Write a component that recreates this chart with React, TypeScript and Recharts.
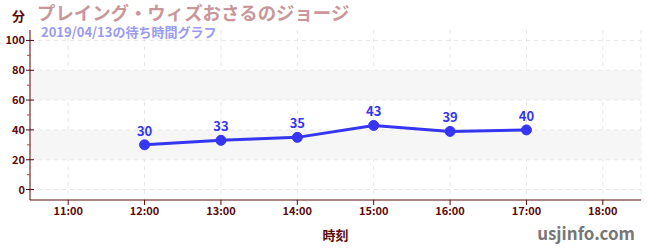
import React from "react";
import { LineChart, Line, XAxis, YAxis, CartesianGrid, ReferenceArea, ReferenceLine, LabelList } from "recharts";

const hours = [12, 13, 14, 15, 16, 17];
const waits = [30, 33, 35, 43, 39, 40];
const xTicks = [11, 12, 13, 14, 15, 16, 17, 18];
const yTicks = [0, 10, 20, 30, 40, 50, 60, 70, 80, 90, 100];
const majorY = [0, 20, 40, 60, 80, 100];
const bands = [[20, 40], [60, 80]];

const data = hours.map((h, i) => ({ h, wait: waits[i] }));

const FONT = "'Noto Sans CJK JP', 'Noto Sans', sans-serif";
const AXIS = "#5c0a0a";

const YTick = (props: any) => {
  const { x, y, payload } = props;
  const major = payload.value % 20 === 0;
  if (!major) {
    return <line x1={x - 3} x2={x} y1={y} y2={y} stroke="#e03030" strokeWidth={1} />;
  }
  return (
    <g>
      <line x1={x - 4} x2={x + 4} y1={y} y2={y} stroke={AXIS} strokeWidth={1} />
      <text x={x - 5} y={y} dy={4} textAnchor="end" fill={AXIS} fontSize={11} fontWeight="bold" fontFamily={FONT}>
        {payload.value}
      </text>
    </g>
  );
};

const App: React.FC = () => {
  return (
    <div style={{ position: "absolute", left: 0, top: 0, width: 650, height: 250, background: "#fff", fontFamily: FONT }}>
      <LineChart width={650} height={250} data={data} margin={{ top: 30, right: 9, bottom: 0, left: 0 }}>
        {bands.map(([a, b]) => (
          <ReferenceArea key={a} y1={a} y2={b} fill="#f6f6f6" fillOpacity={1} stroke="none" />
        ))}
        <CartesianGrid horizontal={false} strokeDasharray="4 4" stroke="#e6e6e6" />
        {majorY.map((v) => (
          <ReferenceLine key={v} y={v} stroke="#e6e6e6" strokeDasharray="4 4" />
        ))}
        <XAxis
          dataKey="h"
          type="number"
          domain={[10.5, 18.5]}
          ticks={xTicks}
          tickFormatter={(h: number) => `${h}:00`}
          height={50}
          stroke={AXIS}
          tickSize={5}
          tick={{ fill: AXIS, fontSize: 11, fontWeight: "bold", fontFamily: FONT }}
          label={{ value: "時刻", position: "insideBottom", offset: 10, fill: AXIS, fontSize: 13, fontWeight: "bold", fontFamily: FONT }}
        />
        <YAxis
          domain={[-7, 107]}
          ticks={yTicks}
          width={30}
          stroke={AXIS}
          tickLine={false}
          tickSize={0}
          tickMargin={0}
          tick={<YTick />}
          interval={0}
        />
        <Line
          dataKey="wait"
          stroke="#3535f2"
          strokeWidth={3}
          dot={{ r: 5, fill: "#3535f2", stroke: "#3535f2", strokeWidth: 1 }}
          isAnimationActive={false}
        >
          <LabelList dataKey="wait" position="top" offset={9} fill="#3535f2" fontSize={13} fontWeight="bold" fontFamily={FONT} />
        </Line>
      </LineChart>
      <div style={{ position: "absolute", left: 12, top: 6, fontSize: 13, fontWeight: "bold", color: AXIS }}>分</div>
      <div style={{ position: "absolute", left: 37, top: 3, fontSize: 18.4, fontWeight: "bold", color: "#c9979b", lineHeight: "19px", whiteSpace: "nowrap" }}>
        プレイング・ウィズおさるのジョージ
        <span style={{ display: "block", marginTop: 3, marginLeft: 4, fontSize: 13, color: "#9a9af2", lineHeight: "14px" }}>
          2019/04/13の待ち時間グラフ
        </span>
      </div>
      <div style={{ position: "absolute", right: 15, top: 222, fontSize: 17, fontWeight: "bold", color: "#777", lineHeight: "22px" }}>
        usjinfo.com
      </div>
    </div>
  );
};

export default App;
